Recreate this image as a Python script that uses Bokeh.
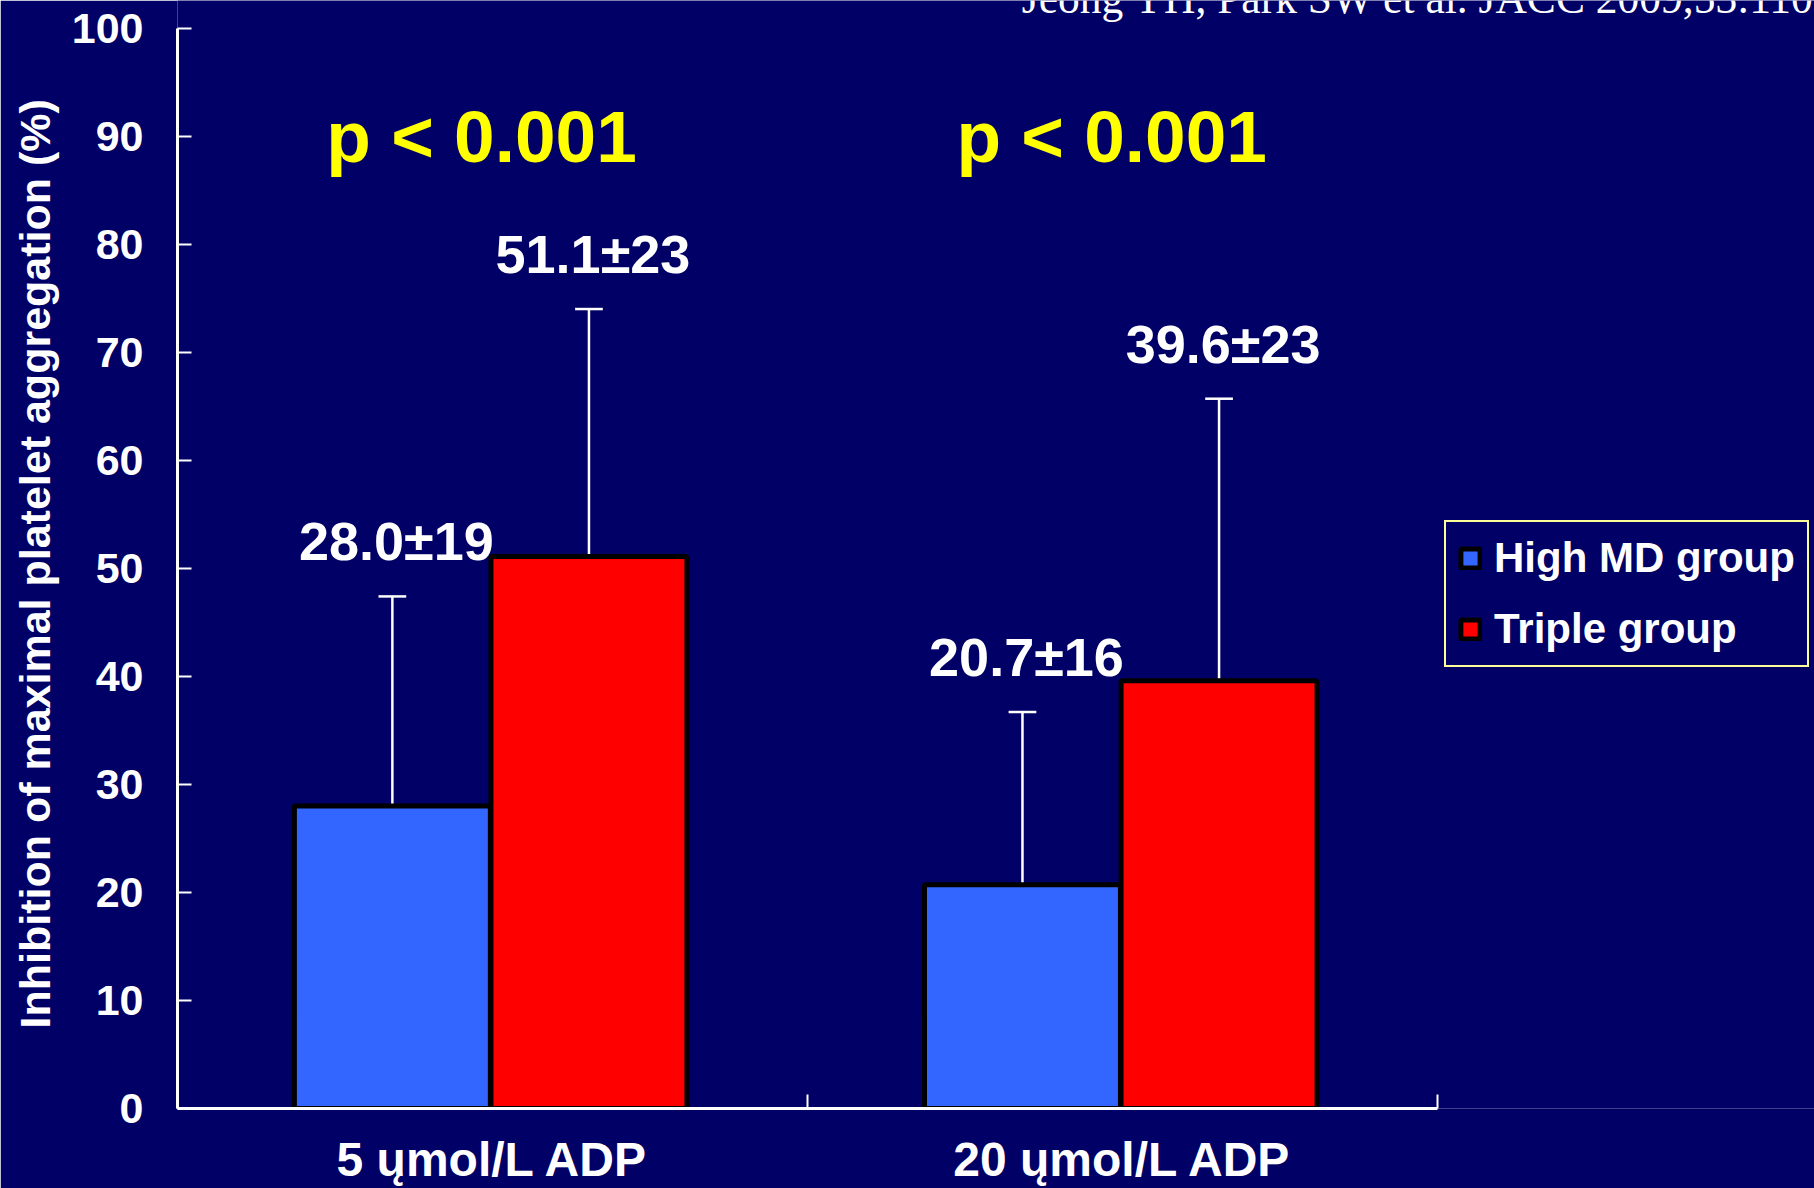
from bokeh.plotting import figure
from bokeh.models import ColumnDataSource, Range1d, FixedTicker, Label, Title
from bokeh.transform import dodge
from bokeh.core.properties import value
from bokeh.embed import file_html
from bokeh.resources import INLINE

# ---------------- data ----------------
categories = ["5 ųmol/L ADP", "20 ųmol/L ADP"]
groups = ["High MD group", "Triple group"]
high_md_mean = [28.0, 20.7]
high_md_sd = [19, 16]
triple_mean = [51.1, 39.6]
triple_sd = [23, 23]
# upper ends of the error bars as drawn in the picture
high_md_err_top = [47.4, 36.7]
triple_err_top = [74.0, 65.7]
p_labels = ["p < 0.001", "p < 0.001"]
p_label_level = [90, 90]
y_ticks = [0, 10, 20, 30, 40, 50, 60, 70, 80, 90, 100]
y_title = "Inhibition of maximal platelet aggregation (%)"
citation = "Jeong YH, Park SW et al. JACC 2009,53:1101"

# ---------------- style ----------------
NAVY = "#000066"
BLUE = "#3366FF"
RED = "#FF0000"
WHITE = "#FFFFFF"
FONT = value("Liberation Sans")
OFF_B, OFF_R, BAR_W, CAP = -0.159, 0.153, 0.311, 0.022
X_VIEW_END = 2.598     # frame continues right of the axis (legend / citation area)
Y_VIEW_END = 102.56    # frame continues above 100 (citation area)

xpos = [i + 0.5 for i in range(len(categories))]
src = ColumnDataSource(dict(
    x=xpos,
    high=high_md_mean,
    high_top=high_md_err_top,
    high_lbl=[f"{m:.1f}±{s}" for m, s in zip(high_md_mean, high_md_sd)],
    tri=triple_mean,
    tri_top=triple_err_top,
    tri_lbl=[f"{m:.1f}±{s}" for m, s in zip(triple_mean, triple_sd)],
    plab=p_labels,
    plev=p_label_level,
))

p = figure(width=1814, height=1188,
           x_range=Range1d(0, X_VIEW_END), y_range=Range1d(0, Y_VIEW_END),
           output_backend="svg", toolbar_location=None,
           min_border_left=177, min_border_right=0,
           min_border_top=0, min_border_bottom=79,
           background_fill_color=NAVY, border_fill_color=NAVY,
           outline_line_color=None)
p.grid.visible = False

# error bars (drawn first so the bar outline covers their base)
for off, lo, hi in [(OFF_B, "high", "high_top"), (OFF_R, "tri", "tri_top")]:
    p.segment(x0=dodge("x", off), y0=lo, x1=dodge("x", off), y1=hi,
              source=src, line_color=WHITE, line_width=2.5)
    p.segment(x0=dodge("x", off - CAP), y0=hi, x1=dodge("x", off + CAP), y1=hi,
              source=src, line_color=WHITE, line_width=2.5)

p.vbar(x=dodge("x", OFF_B), top="high", bottom=0, width=BAR_W, source=src,
       fill_color=BLUE, line_color="black", line_width=5, legend_label=groups[0])
p.vbar(x=dodge("x", OFF_R), top="tri", bottom=0, width=BAR_W, source=src,
       fill_color=RED, line_color="black", line_width=5, legend_label=groups[1])

# value labels
for off, hi, lbl in [(OFF_B, "high_top", "high_lbl"), (OFF_R, "tri_top", "tri_lbl")]:
    p.text(x=dodge("x", off), y=hi, text=lbl, source=src,
           x_offset=4, y_offset=-55,
           text_align="center", text_baseline="middle",
           text_font=FONT, text_font_style="bold", text_font_size="54px",
           text_color=WHITE)

# p-values
p.text(x="x", y="plev", text="plab", source=src, x_offset=-11,
       text_align="center", text_baseline="middle",
       text_font=FONT, text_font_style="bold", text_font_size="73px",
       text_color="#FFFF00")

# citation (cut off at the top of the slide)
p.add_layout(Label(x=1.34, y=102.77, text=citation,
                   text_font="Liberation Serif", text_font_size="43.5px",
                   text_color=WHITE, text_baseline="middle", text_align="left"))

# x axis
xa = p.xaxis[0]
xa.bounds = (0, len(categories))
xa.ticker = FixedTicker(ticks=xpos, minor_ticks=list(range(len(categories) + 1)))
xa.major_label_overrides = {x: c for x, c in zip(xpos, categories)}
xa.major_tick_in = 0
xa.major_tick_out = 0
xa.minor_tick_in = 14
xa.minor_tick_out = 0
xa.minor_tick_line_color = WHITE
xa.minor_tick_line_width = 2
xa.axis_line_color = WHITE
xa.axis_line_width = 3
xa.major_label_text_color = WHITE
xa.major_label_text_font = "Liberation Sans"
xa.major_label_text_font_style = "bold"
xa.major_label_text_font_size = "48px"
xa.major_label_standoff = 24

# y axis
ya = p.yaxis[0]
ya.bounds = (0, 100)
ya.ticker = FixedTicker(ticks=y_ticks, minor_ticks=[])
ya.major_tick_in = 14
ya.major_tick_out = 0
ya.major_tick_line_color = WHITE
ya.major_tick_line_width = 2
ya.axis_line_color = WHITE
ya.axis_line_width = 3
ya.major_label_text_color = WHITE
ya.major_label_text_font = "Liberation Sans"
ya.major_label_text_font_style = "bold"
ya.major_label_text_font_size = "43px"
ya.major_label_standoff = 34

# y-axis title, placed so that it is centred on the 0-100 part of the axis
p.add_layout(Title(text=y_title, align="left", offset=80, vertical_align="middle",
                   text_font="Liberation Sans", text_font_style="bold",
                   text_font_size="43px", text_color=WHITE, standoff=18), "left")

# legend
lg = p.legend[0]
lg.location = (1267, 441)
lg.background_fill_color = NAVY
lg.background_fill_alpha = 1
lg.border_line_color = "#FFFF99"
lg.border_line_alpha = 1
lg.border_line_width = 2
lg.label_text_color = WHITE
lg.label_text_font = "Liberation Sans"
lg.label_text_font_style = "bold"
lg.label_text_font_size = "42px"
lg.label_text_baseline = "middle"
lg.glyph_width = 24
lg.glyph_height = 24
lg.label_standoff = 12
lg.label_height = 46
lg.spacing = 23
lg.padding = 12
lg.margin = 0

open("out.html", "w").write(file_html(p, INLINE))
